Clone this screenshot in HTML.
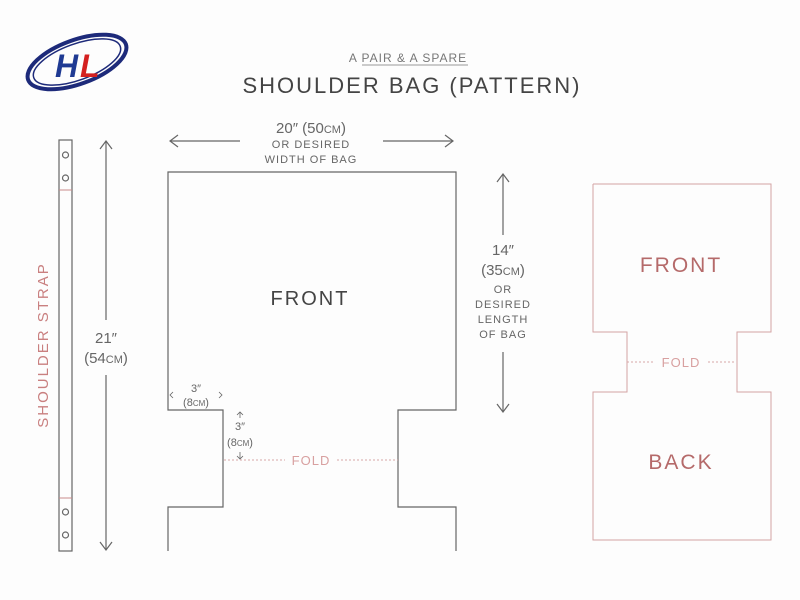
<!DOCTYPE html>
<html><head><style>
html,body{margin:0;padding:0;background:#fff;}
svg{display:block;}
text{font-family:"Liberation Sans",sans-serif;}
</style></head><body>
<svg width="800" height="600" viewBox="0 0 800 600" xmlns="http://www.w3.org/2000/svg">
<rect width="800" height="600" fill="#fdfdfd"/>
<g transform="translate(77,62) rotate(-20)">
<ellipse cx="0" cy="0" rx="52" ry="22" fill="none" stroke="#1d2a7a" stroke-width="4"/>
<ellipse cx="0" cy="0" rx="46" ry="18" fill="none" stroke="#1d2a7a" stroke-width="1.5"/>
</g>
<text x="55" y="77" font-size="32" font-weight="bold" font-style="italic" fill="#1f3a93">H</text>
<text x="80" y="77" font-size="32" font-weight="bold" font-style="italic" fill="#d42020">L</text>
<text x="408" y="62" font-size="12" fill="#777" text-anchor="middle" letter-spacing="1">A PAIR &amp; A SPARE</text>
<line x1="362" y1="65" x2="468" y2="65" stroke="#999" stroke-width="1"/>
<text x="412" y="93" font-size="22" fill="#444" text-anchor="middle" letter-spacing="2">SHOULDER BAG (PATTERN)</text>
<g stroke="#666" stroke-width="1.2" fill="none">
<line x1="170" y1="141" x2="240" y2="141"/><polyline points="178,135 170,141 178,147"/>
<line x1="383" y1="141" x2="453" y2="141"/><polyline points="445,135 453,141 445,147"/>
<rect x="59" y="140" width="13" height="411"/>
<circle cx="65.5" cy="155" r="3"/><circle cx="65.5" cy="178" r="3"/>
<circle cx="65.5" cy="512" r="3"/><circle cx="65.5" cy="535" r="3"/>
<line x1="106" y1="141" x2="106" y2="320"/><polyline points="100,149 106,141 112,149"/>
<line x1="106" y1="375" x2="106" y2="550"/><polyline points="100,542 106,550 112,542"/>
<polyline points="168,551 168,507 223,507 223,410 168,410 168,172 456,172 456,410 398,410 398,507 456,507 456,551"/>
<line x1="503" y1="174" x2="503" y2="235"/><polyline points="497,182 503,174 509,182"/>
<line x1="503" y1="352" x2="503" y2="412"/><polyline points="497,404 503,412 509,404"/>
<g stroke-width="0.8">
<polyline points="173,392 170,395 173,398"/><polyline points="219,392 222,395 219,398"/>
<line x1="240" y1="412" x2="240" y2="418"/><polyline points="237,415 240,412 243,415"/>
<line x1="240" y1="452" x2="240" y2="459"/><polyline points="237,456 240,459 243,456"/>
</g>
</g>
<g stroke="#c98a8a" stroke-width="1" fill="none">
<line x1="59" y1="190" x2="72" y2="190"/><line x1="59" y1="498" x2="72" y2="498"/>
<polyline points="593,184 771,184 771,332 737,332 737,392 771,392 771,540 593,540 593,392 627,392 627,332 593,332 593,184" stroke="#d4a4a4"/>
<line x1="224" y1="460" x2="285" y2="460" stroke-dasharray="2,2" stroke="#d8a8a8"/>
<line x1="337" y1="460" x2="398" y2="460" stroke-dasharray="2,2" stroke="#d8a8a8"/>
<line x1="627" y1="362" x2="655" y2="362" stroke-dasharray="2,2" stroke="#d8a8a8"/>
<line x1="708" y1="362" x2="736" y2="362" stroke-dasharray="2,2" stroke="#d8a8a8"/>
</g>
<g fill="#666" text-anchor="middle">
<text x="311" y="133" font-size="15">20″ (50<tspan font-size="11">CM</tspan>)</text>
<text x="311" y="148" font-size="11" letter-spacing="1">OR DESIRED</text>
<text x="311" y="163" font-size="11" letter-spacing="1">WIDTH OF BAG</text>
<text x="310" y="305" font-size="20" fill="#444" letter-spacing="2">FRONT</text>
<text x="503" y="255" font-size="15">14″</text>
<text x="503" y="275" font-size="15">(35<tspan font-size="11">CM</tspan>)</text>
<text x="503" y="293" font-size="11" letter-spacing="1">OR</text>
<text x="503" y="308" font-size="11" letter-spacing="1">DESIRED</text>
<text x="503" y="323" font-size="11" letter-spacing="1">LENGTH</text>
<text x="503" y="338" font-size="11" letter-spacing="1">OF BAG</text>
<text x="106" y="343" font-size="15">21″</text>
<text x="106" y="363" font-size="15">(54<tspan font-size="11">CM</tspan>)</text>
<text x="196" y="392" font-size="11">3″</text>
<text x="196" y="406" font-size="11">(8<tspan font-size="8">CM</tspan>)</text>
<text x="240" y="430" font-size="11">3″</text>
<text x="240" y="446" font-size="11">(8<tspan font-size="8">CM</tspan>)</text>
</g>
<g fill="#d8a0a0" text-anchor="middle">
<text x="311" y="465" font-size="13" letter-spacing="1">FOLD</text>
<text x="681" y="367" font-size="13" letter-spacing="1">FOLD</text>
<text x="681" y="272" font-size="21" fill="#b56a6a" letter-spacing="2">FRONT</text>
<text x="681" y="469" font-size="21" fill="#b56a6a" letter-spacing="2">BACK</text>
<text transform="translate(48,345) rotate(-90)" font-size="15" fill="#c98080" letter-spacing="2">SHOULDER STRAP</text>
</g>
</svg>
</body></html>
